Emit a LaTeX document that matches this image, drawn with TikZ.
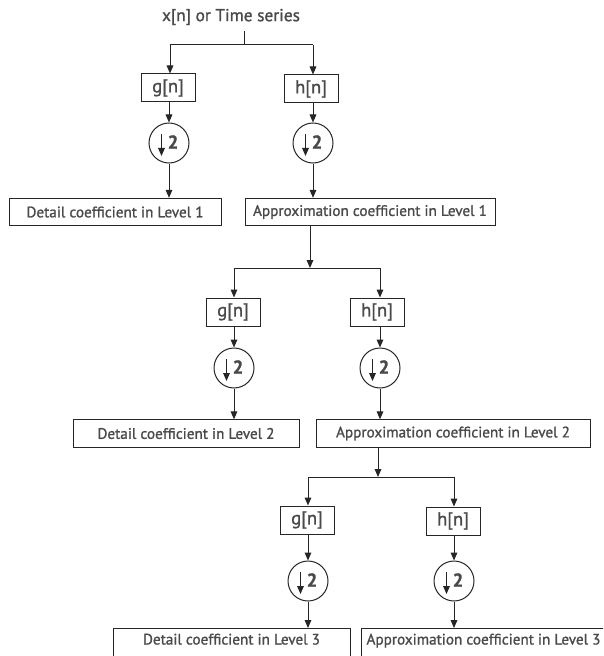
\documentclass[tikz,border=0pt]{standalone}
\usepackage{fontspec}
\setmainfont{PT Sans}[RawFeature={embolden=1.2}]
\usetikzlibrary{arrows.meta,calc}
\definecolor{txt}{HTML}{4A4A4A}
\definecolor{ln}{HTML}{262626}
\begin{document}
\begin{tikzpicture}[x=0.75pt,y=-0.75pt,
  font=\fontsize{11.4}{13}\selectfont,
  arr/.style={-{Triangle[length=6pt,width=5pt]}, draw=ln, line width=0.75pt},
  wire/.style={draw=ln, line width=0.75pt},
  filt/.style={draw=ln, line width=0.75pt, minimum width=40.5pt, minimum height=21pt, inner sep=0pt, text=txt, font=\fontsize{14}{15}\selectfont},
  coef/.style={draw=ln, line width=0.75pt, inner sep=0pt, minimum height=20.5pt, text=txt},
  cut/.style={draw=ln, line width=0.75pt, inner sep=0pt, text height=12pt, text depth=14pt, anchor=north, text=txt},
  down/.style={draw=ln, line width=0.75pt, circle, minimum size=30pt, inner sep=0pt},
  two/.style={text=txt, font=\fontsize{14}{15}\selectfont\bfseries, inner sep=0pt}
]
\useasboundingbox (0,0) rectangle (603,656);
\clip (0,0) rectangle (603,656);

% ---------- Level 1 ----------
\node[text=txt, inner sep=0pt, font=\fontsize{13}{15}\selectfont] (x) at (231,17) {x[n] or Time series};
\coordinate (t1) at (244,31);
\coordinate (j1) at (244,45);
\coordinate (l1) at (170,45);
\coordinate (r1) at (313,45);
\node[filt] (g1) at (168,88) {g[n]};
\node[filt] (h1) at (311,89) {h[n]};
\node[down] (cg1) at (169,143) {};
\node[down] (ch1) at (313,143) {};
\node[coef, minimum width=159pt] (d1) at (115,212) {Detail coefficient in Level 1};
\node[coef, minimum width=187.5pt] (a1) at (370,212) {Approximation coefficient in Level 1};

\draw[wire] (t1) -- (j1);
\draw[wire] (l1) -- (r1);
\draw[arr] (l1) -- (l1 |- g1.north);
\draw[arr] (r1) -- (r1 |- h1.north);
\draw[arr] (g1.south -| cg1) -- (cg1.north);
\draw[arr] (h1.south -| ch1) -- (ch1.north);
\draw[arr] (cg1.south) -- (cg1 |- d1.north);
\draw[arr] (ch1.south) -- (ch1 |- a1.north);

% ---------- Level 2 ----------
\coordinate (j2) at (310,268);
\coordinate (l2) at (234,268);
\coordinate (r2) at (380,268);
\node[filt] (g2) at (233,312) {g[n]};
\node[filt] (h2) at (377,312) {h[n]};
\node[down] (cg2) at (234,368) {};
\node[down] (ch2) at (380,368) {};
\node[coef, minimum width=169.5pt] (d2) at (186,433.5) {Detail coefficient in Level 2};
\node[coef, minimum width=205.5pt] (a2) at (453,433.5) {Approximation coefficient in Level 2};

\draw[arr] (a1.south -| j2) -- (j2);
\draw[wire] (l2) -- (r2);
\draw[arr] (l2) -- (l2 |- g2.north);
\draw[arr] (r2) -- (r2 |- h2.north);
\draw[arr] (g2.south -| cg2) -- (cg2.north);
\draw[arr] (h2.south -| ch2) -- (ch2.north);
\draw[arr] (cg2.south) -- (cg2 |- d2.north);
\draw[arr] (ch2.south) -- (ch2 |- a2.north);

% ---------- Level 3 ----------
\coordinate (j3) at (378,477);
\coordinate (l3) at (308,477);
\coordinate (r3) at (454,477);
\node[filt] (g3) at (307,520) {g[n]};
\node[filt] (h3) at (453,521) {h[n]};
\node[down] (cg3) at (308,581) {};
\node[down] (ch3) at (454,581) {};
\node[cut, minimum width=177.75pt] (d3) at (231.5,628) {Detail coefficient in Level 3};
\node[cut, minimum width=183.75pt] (a3) at (483.5,628) {Approximation coefficient in Level 3};

\draw[arr] (a2.south -| j3) -- (j3);
\draw[wire] (l3) -- (r3);
\draw[arr] (l3) -- (l3 |- g3.north);
\draw[arr] (r3) -- (r3 |- h3.north);
\draw[arr] (g3.south -| cg3) -- (cg3.north);
\draw[arr] (h3.south -| ch3) -- (ch3.north);
\draw[arr] (cg3.south) -- (cg3 |- d3.north);
\draw[arr] (ch3.south) -- (ch3 |- a3.north);

% ---------- downsampling symbols ----------
\foreach \c in {cg1,ch1,cg2,ch2,cg3,ch3}{
  \draw[arr] ($(\c)+(-7.5,-9)$) -- ($(\c)+(-7.5,13)$);
  \node[two] at ($(\c)+(4,-1)$) {2};
}
\end{tikzpicture}
\end{document}
